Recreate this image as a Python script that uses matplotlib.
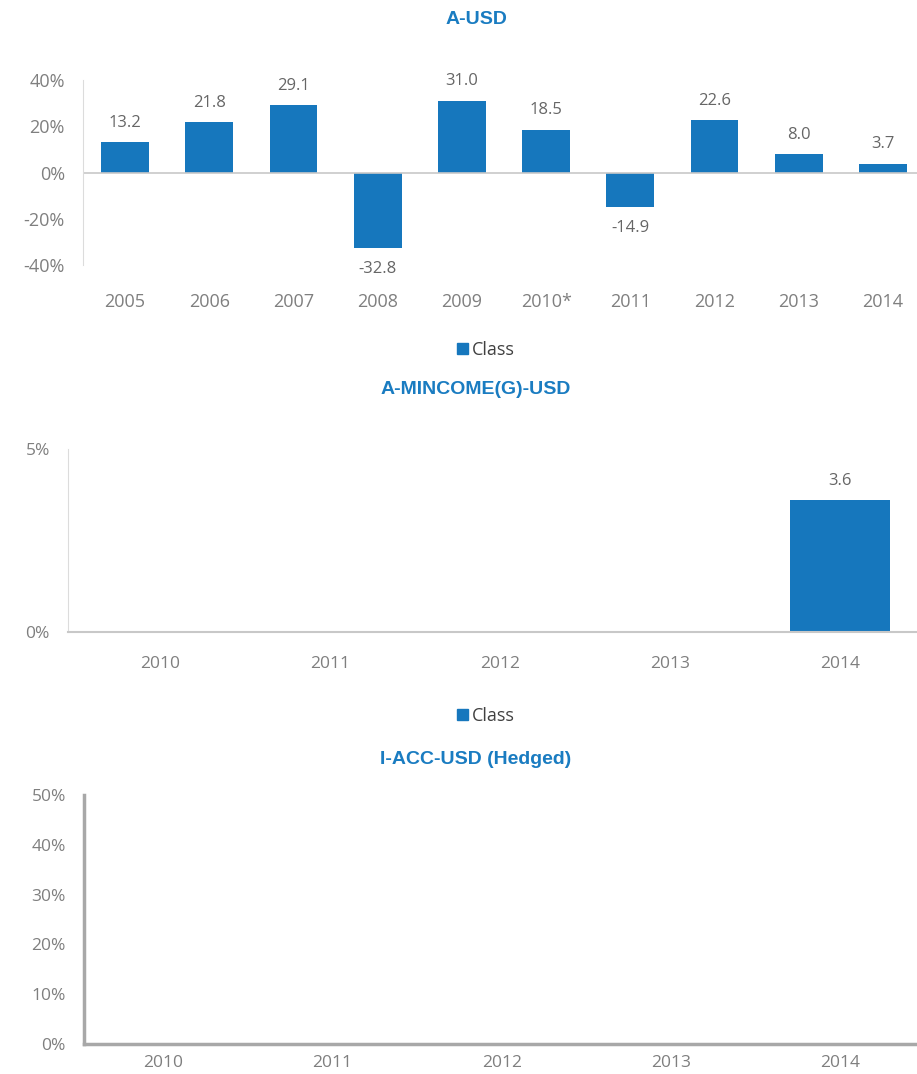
import matplotlib.pyplot as plt
from matplotlib.patches import Patch

# data
years_a = ['2005', '2006', '2007', '2008', '2009', '2010*', '2011', '2012', '2013', '2014']
returns_a = [13.2, 21.8, 29.1, -32.8, 31.0, 18.5, -14.9, 22.6, 8.0, 3.7]

years_m = ['2010', '2011', '2012', '2013', '2014']
returns_m = [None, None, None, None, 3.6]

years_i = ['2010', '2011', '2012', '2013', '2014']
returns_i = [None, None, None, None, None]

BLUE = '#1677bd'
TITLE_BLUE = '#1a7cc1'
GREY_TXT = '#7f7f7f'
TICK_FONT = 'Open Sans'
TITLE_FONT = 'Liberation Sans'

W, H = 917, 1074
fig = plt.figure(figsize=(W / 100, H / 100), dpi=100)


def px_axes(left, top, right, bottom):
    return fig.add_axes([left / W, 1 - bottom / H, (right - left) / W, (bottom - top) / H])


def title(text, y):
    fig.text(476 / W, 1 - y / H, text, ha='center', va='center', color=TITLE_BLUE,
             fontsize=14, fontweight='bold', family=TITLE_FONT)


def legend(y):
    fig.legend(handles=[Patch(color=BLUE, label='Class')], loc='center',
               bbox_to_anchor=(486 / W, 1 - y / H), frameon=False,
               handlelength=0.6, handleheight=0.6, handletextpad=0.25,
               prop={'family': TICK_FONT, 'size': 13}, labelcolor='#404040')


def style(ax, xpad, ypad, size=13):
    for s in ['top', 'right']:
        ax.spines[s].set_visible(False)
    ax.tick_params(length=0, colors=GREY_TXT, labelsize=size)
    ax.tick_params(axis='x', pad=xpad)
    ax.tick_params(axis='y', pad=ypad)
    for lab in ax.get_xticklabels() + ax.get_yticklabels():
        lab.set_family(TICK_FONT)


def add_labels(ax, xs, vals):
    for x, v in zip(xs, vals):
        if v is None:
            continue
        off = 14 if v >= 0 else -15
        ax.annotate(f'{v:.1f}', (x, v), xytext=(0, off), textcoords='offset points',
                    ha='center', va='center', fontsize=12, color='#666666',
                    family=TICK_FONT)


# ---- A-USD
title('A-USD', 20)
ax1 = px_axes(83, 80, 925, 265)
x1 = range(len(years_a))
ax1.bar(x1, returns_a, width=0.57, color=BLUE)
ax1.axhline(0, color='#c8c8c8', lw=1.2)
ax1.set_xlim(-0.5, 9.5)
ax1.set_ylim(-40, 40)
ax1.set_yticks([-40, -20, 0, 20, 40])
ax1.set_yticklabels([f'{t}%' for t in [-40, -20, 0, 20, 40]])
ax1.set_xticks(list(x1))
ax1.set_xticklabels(years_a)
ax1.spines['bottom'].set_visible(False)
ax1.spines['left'].set_color('#dcdcdc')
style(ax1, 20, 13)
add_labels(ax1, x1, returns_a)
legend(350)

# ---- A-MINCOME(G)-USD
title('A-MINCOME(G)-USD', 390)
ax2 = px_axes(68, 449, 925, 632)
x2 = range(len(years_m))
ax2.bar(x2, [v if v is not None else 0 for v in returns_m], width=0.59, color=BLUE)
ax2.set_xlim(-0.54, 4.5)
ax2.set_ylim(0, 5)
ax2.set_yticks([0, 5])
ax2.set_yticklabels(['0%', '5%'])
ax2.set_xticks(list(x2))
ax2.set_xticklabels(years_m)
ax2.spines['left'].set_color('#dcdcdc')
ax2.spines['bottom'].set_color('#c8c8c8')
ax2.spines['bottom'].set_linewidth(1.5)
style(ax2, 17, 13, 12.5)
add_labels(ax2, x2, returns_m)
legend(716)

# ---- I-ACC-USD (Hedged)
title('I-ACC-USD (Hedged)', 760)
ax3 = px_axes(84, 795, 925, 1044)
x3 = range(len(years_i))
ax3.set_xlim(-0.467, 4.5)
ax3.set_ylim(0, 50)
ax3.set_yticks([0, 10, 20, 30, 40, 50])
ax3.set_yticklabels([f'{t}%' for t in [0, 10, 20, 30, 40, 50]])
ax3.set_xticks(list(x3))
ax3.set_xticklabels(years_i)
for s in ['left', 'bottom']:
    ax3.spines[s].set_color('#a8a8a8')
    ax3.spines[s].set_linewidth(2.5)
style(ax3, 8, 13, 12.5)

fig.savefig('out.png', dpi=100)
